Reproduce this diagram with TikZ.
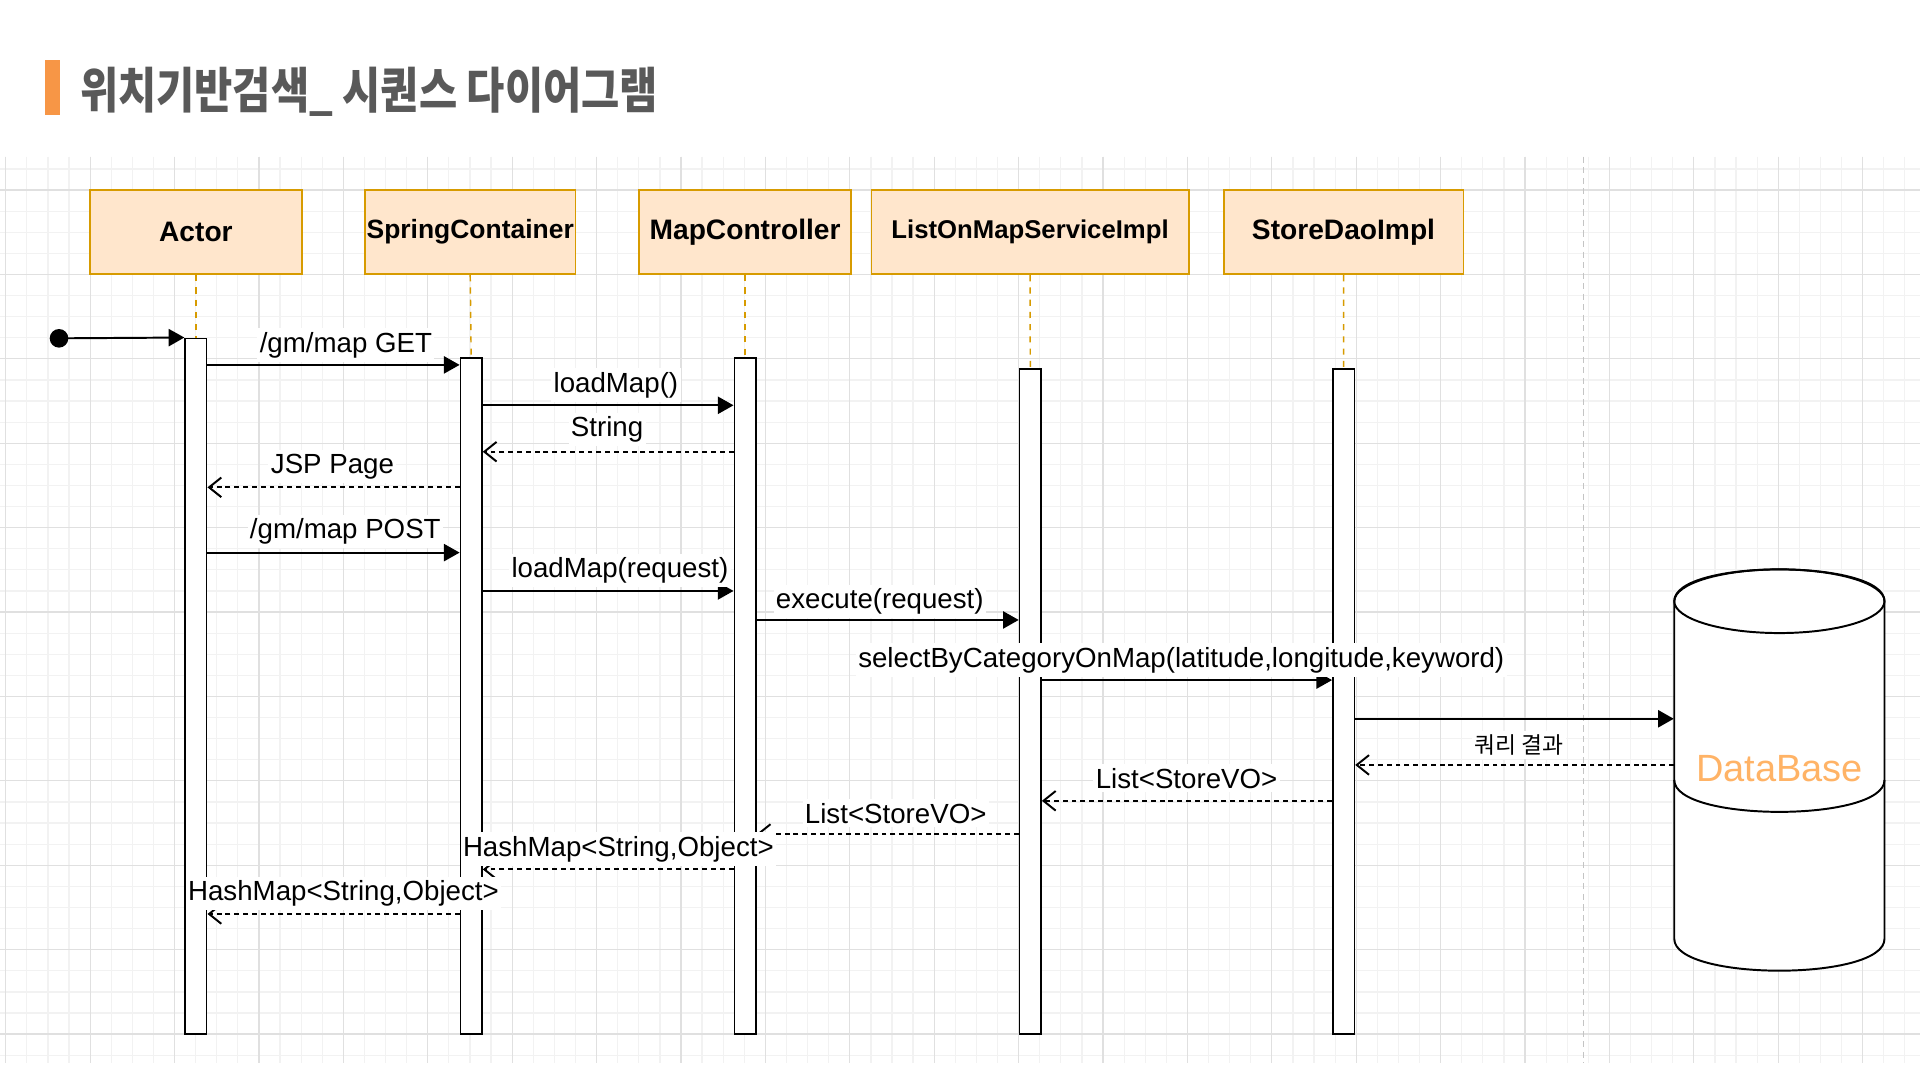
\documentclass[tikz,border=0pt]{standalone}
\usepackage{fontspec}
\setmainfont{Liberation Sans}
\newfontfamily\kofont{Noto Sans CJK KR}
\usepackage{graphicx}
\usetikzlibrary{arrows.meta}
\definecolor{gridmaj}{HTML}{E0E0E0}
\definecolor{gridmin}{HTML}{F2F2F2}
\definecolor{hdrfill}{HTML}{FFE6CC}
\definecolor{hdrline}{HTML}{D79B00}
\definecolor{titlebar}{HTML}{F79646}
\definecolor{titletext}{HTML}{595959}
\definecolor{dbtext}{HTML}{FFB366}
\definecolor{pageline}{HTML}{C4C4C4}
\begin{document}
\begin{tikzpicture}[x=0.5pt,y=-0.5pt,
  hdr/.style={draw=hdrline, fill=hdrfill, line width=0.7pt, inner sep=0pt, minimum height=34.4pt, font=\bfseries\fontsize{11.5}{13}\selectfont},
  actbar/.style={draw=black, fill=white, line width=0.7pt, minimum width=8.75pt, inner sep=0pt},
  life/.style={draw=hdrline, line width=0.6pt, dash pattern=on 2.5pt off 2.5pt},
  msg/.style={line width=0.8pt, -{Triangle[length=6.4pt,width=7pt]}},
  ret/.style={line width=0.8pt, dash pattern=on 2pt off 1.6pt, -{Straight Barb[length=5pt,width=8pt]}},
  lbl/.style={fill=white, inner xsep=1pt, inner ysep=1.5pt, font=\fontsize{11.3}{13}\selectfont},
  gmin/.style={draw=gridmin, line width=0.5pt},
  gmaj/.style={draw=gridmaj, line width=0.5pt},
  dbline/.style={draw=black, line width=0.8pt},
]
\useasboundingbox (0,0) rectangle (1568,882);
\fill[white] (0,0) rectangle (1568,882);
% grid
\foreach \i in {0,...,90} \draw[gmin] ({4.7+\i*17.2325},128) -- ({4.7+\i*17.2325},868);
\foreach \i in {0,...,42} \draw[gmin] (0,{137.97+\i*17.2325}) -- (1568,{137.97+\i*17.2325});
\foreach \i in {0,...,22} \draw[gmaj] ({4.7+\i*68.93},128) -- ({4.7+\i*68.93},868);
\foreach \i in {0,...,10} \draw[gmaj] (0,{155.2+\i*68.93}) -- (1568,{155.2+\i*68.93});
\draw[pageline, line width=0.5pt, dash pattern=on 2.5pt off 1.8pt] (1293,128) -- (1293,868);

% title
\fill[titlebar] (36.7,49) rectangle (49,94);
\node[anchor=base west, inner sep=0pt, text=titletext] (title) at (65,89)
  {\resizebox{236pt}{\height}{\kofont\bfseries\fontsize{20}{24}\selectfont 위치기반검색\_ 시퀀스 다이어그램}};

% headers
\node[hdr, minimum width=86.5pt] (hA) at (160,189.6) {Actor};
\node[hdr, minimum width=86pt, font=\bfseries\fontsize{10.8}{13}\selectfont] (hS) at (384,189.6) {SpringContainer};
\node[hdr, minimum width=86.5pt] (hM) at (608.5,189.6) {MapController};
\node[hdr, minimum width=129.6pt, font=\bfseries\fontsize{10.5}{13}\selectfont] (hL) at (841.2,189.6) {ListOnMapServiceImpl};
\node[hdr, minimum width=97.9pt] (hD) at (1097.2,189.6) {StoreDaoImpl};

% activation bars
\node[actbar, minimum height=284pt] (aA) at (160,560.35) {};
\node[actbar, minimum height=275.9pt] (aS) at (384.8,568.5) {};
\node[actbar, minimum height=275.9pt] (aM) at (608.5,568.5) {};
\node[actbar, minimum height=271.5pt] (aL) at (841.4,572.9) {};
\node[actbar, minimum height=271.5pt] (aD) at (1097.3,572.9) {};

% lifelines
\draw[life] (hA.south) -- (aA.north);
\draw[life] (hS.south) -- (aS.north);
\draw[life] (hM.south) -- (aM.north);
\draw[life] (hL.south) -- (aL.north);
\draw[life] (hD.south) -- (aD.north);

% database
\draw[dbline, fill=white] (1367.3,491) -- (1367.3,766.7) .. controls (1367.3,801.4) and (1539,801.4) .. (1539,766.7) -- (1539,491) .. controls (1539,456.3) and (1367.3,456.3) .. (1367.3,491) -- cycle;
\draw[dbline] (1453.15,491) ellipse [x radius=85.85, y radius=26];
\draw[dbline] (1367.3,637) .. controls (1367.3,671.7) and (1539,671.7) .. (1539,637);
\node[text=dbtext, font=\fontsize{15.5}{18}\selectfont, inner sep=0pt, minimum width=85.85pt] (db) at (1453.15,627.5) {DataBase};

% start
\node[circle, fill=black, minimum size=7.6pt, inner sep=0pt] (start) at (48.2,276.3) {};
\draw[msg] (start.center) -- (aA.north west);

% message rows
\coordinate (y1) at (0,298);
\coordinate (y2) at (0,331);
\coordinate (y3) at (0,368.9);
\coordinate (y4) at (0,398);
\coordinate (y5) at (0,451.3);
\coordinate (y6) at (0,482.6);
\coordinate (y7) at (0,506.3);
\coordinate (y8) at (0,555.4);
\coordinate (y9) at (0,587);
\coordinate (y10) at (0,624.7);
\coordinate (y11) at (0,654);
\coordinate (y12) at (0,681.1);
\coordinate (y13) at (0,710);
\coordinate (y14) at (0,746.4);

\draw[msg] (aA.east |- y1) -- (aS.west |- y1);
\node[lbl] (l1) at (282.5,281.7) {/gm/map GET};
\draw[msg] (aS.east |- y2) -- (aM.west |- y2);
\node[lbl] (l2) at (503,314.4) {loadMap()};
\draw[ret] (aM.west |- y3) -- (aS.east |- y3);
\node[lbl] (l3) at (495.8,351) {String};
\draw[ret] (aS.west |- y4) -- (aA.east |- y4);
\node[lbl] (l4) at (271.5,381) {JSP Page};
\draw[msg] (aA.east |- y5) -- (aS.west |- y5);
\node[lbl] (l5) at (282,434.2) {/gm/map POST};
\draw[msg] (aS.east |- y6) -- (aM.west |- y6);
\node[lbl] (l6) at (506.3,466) {loadMap(request)};
\draw[msg] (aM.east |- y7) -- (aL.west |- y7);
\node[lbl] (l7) at (718.5,491.4) {execute(request)};
\draw[msg] (aL.east |- y8) -- (aD.west |- y8);
\node[lbl] (l8) at (964.7,539) {selectByCategoryOnMap(latitude,longitude,keyword)};
\draw[msg] (aD.east |- y9) -- (db.west |- y9);
\draw[ret] (db.west |- y10) -- (aD.east |- y10);
\node[lbl, font=\kofont\fontsize{9.3}{11}\selectfont] (l10) at (1240.5,608.4) {쿼리 결과};
\draw[ret] (aD.west |- y11) -- (aL.east |- y11);
\node[lbl] (l11) at (969,635.6) {List<StoreVO>};
\draw[ret] (aL.west |- y12) -- (aM.east |- y12);
\node[lbl] (l12) at (731.5,664.2) {List<StoreVO>};
\draw[ret] (aM.west |- y13) -- (aS.east |- y13);
\node[lbl] (l13) at (505,693.3) {HashMap<String,Object>};
\draw[ret] (aS.west |- y14) -- (aA.east |- y14);
\node[lbl] (l14) at (280.5,729.5) {HashMap<String,Object>};
\end{tikzpicture}
\end{document}
